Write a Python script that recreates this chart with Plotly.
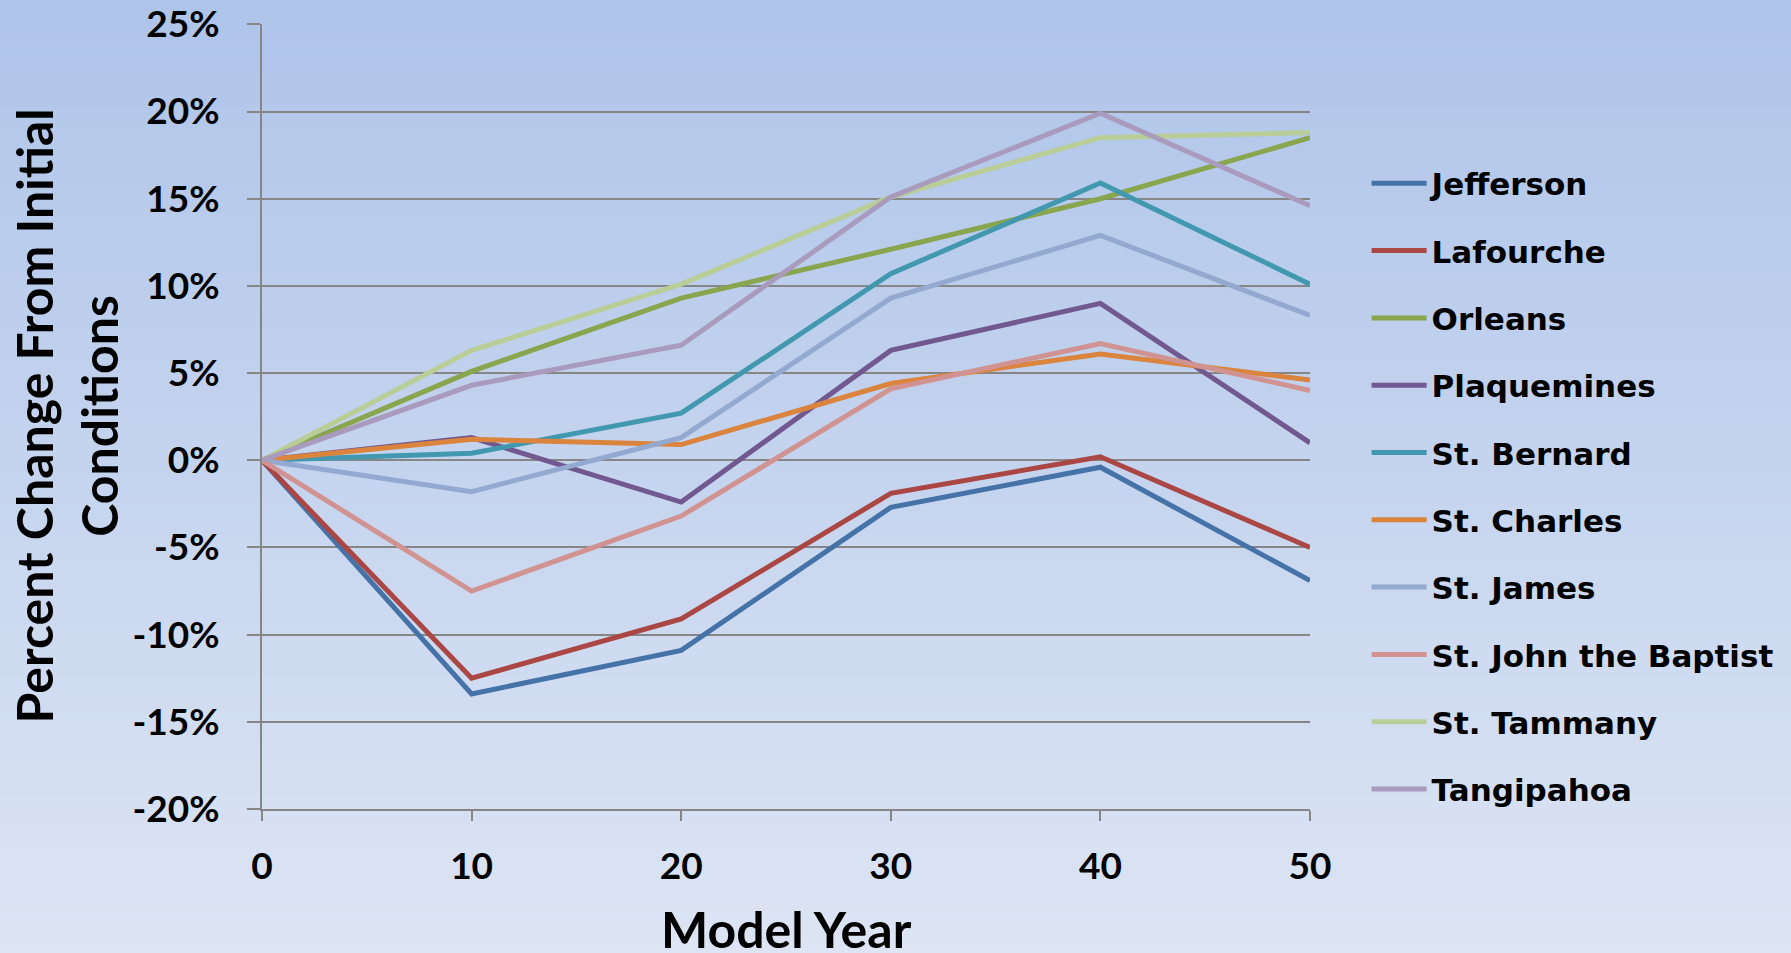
import plotly.graph_objects as go

# ---------------- data ----------------
years = [0, 10, 20, 30, 40, 50]
parishes = ["Jefferson", "Lafourche", "Orleans", "Plaquemines", "St. Bernard",
            "St. Charles", "St. James", "St. John the Baptist", "St. Tammany", "Tangipahoa"]
jefferson = [0, -13.4, -10.9, -2.7, -0.4, -6.9]
lafourche = [0, -12.5, -9.1, -1.9, 0.2, -5.0]
orleans = [0, 5.1, 9.3, 12.1, 15.0, 18.5]
plaquemines = [0, 1.3, -2.4, 6.3, 9.0, 1.0]
st_bernard = [0, 0.4, 2.7, 10.7, 15.9, 10.1]
st_charles = [0, 1.2, 0.9, 4.4, 6.1, 4.6]
st_james = [0, -1.8, 1.3, 9.3, 12.9, 8.3]
st_john = [0, -7.5, -3.2, 4.1, 6.7, 4.0]
st_tammany = [0, 6.3, 10.1, 15.1, 18.5, 18.8]
tangipahoa = [0, 4.3, 6.6, 15.1, 19.9, 14.6]
series = [jefferson, lafourche, orleans, plaquemines, st_bernard,
          st_charles, st_james, st_john, st_tammany, tangipahoa]
y_tickvals = [-20, -15, -10, -5, 0, 5, 10, 15, 20, 25]
y_ticktext = ["-20%", "-15%", "-10%", "-5%", "0%", "5%", "10%", "15%", "20%", "25%"]
x_tickvals = [0, 10, 20, 30, 40, 50]

colors = ["#4572A7", "#AA4643", "#89A54E", "#71588F", "#4198AF",
          "#DB843D", "#93A9CF", "#D19392", "#B9CD96", "#A99BBD"]

W, H = 1791, 953
ML, MR, MT, MB = 262, 481, 24, 144
PW, PH = W - ML - MR, H - MT - MB

fig = go.Figure()
for i, (name, vals) in enumerate(zip(parishes, series)):
    fig.add_trace(go.Scatter(x=years, y=vals, mode="lines", name=name,
                             legendgroup=name,
                             line=dict(color=colors[i], width=5)))

# gradient background made of thin strips
top = (174, 196, 233)
bot = (221, 229, 244)
N = 90
shapes = []
for k in range(N):
    py0 = H * k / N
    py1 = H * (k + 1) / N + 1
    t = (k + 0.5) / N
    c = tuple(round(top[j] + (bot[j] - top[j]) * t) for j in range(3))
    shapes.append(dict(type="rect", xref="paper", yref="paper",
                       x0=-ML / PW - 0.01, x1=(W - ML) / PW + 0.01,
                       y0=(H - MB - py1) / PH, y1=(H - MB - py0) / PH,
                       fillcolor="rgb(%d,%d,%d)" % c, line=dict(width=0),
                       layer="below"))

axis_font = dict(family="Lato", size=37, color="black", weight="bold")
fig.update_layout(
    width=W, height=H,
    margin=dict(l=ML, r=MR, t=MT, b=MB, autoexpand=False),
    paper_bgcolor="rgb(198,212,238)",
    plot_bgcolor="rgba(0,0,0,0)",
    shapes=shapes,
    showlegend=True,
    legend=dict(x=1.054, xanchor="left", y=0.831, yanchor="top",
                bgcolor="rgba(0,0,0,0)", traceorder="grouped",
                tracegroupgap=24, itemwidth=55,
                font=dict(family="DejaVu Sans", size=31, color="black", weight="bold")),
    xaxis=dict(range=[0, 50], tickvals=x_tickvals, showgrid=False,
               showline=True, linecolor="#868686", linewidth=2,
               ticks="outside", ticklen=10, tickcolor="#868686", tickwidth=2,
               tickfont=axis_font, ticklabelstandoff=14, zeroline=False),
    yaxis=dict(range=[-20, 25.02], tickvals=y_tickvals, ticktext=y_ticktext,
               showgrid=True, gridcolor="#868686", gridwidth=2,
               showline=True, linecolor="#868686", linewidth=2,
               ticks="outside", ticklen=13, tickcolor="#868686", tickwidth=2,
               tickfont=axis_font, ticklabelstandoff=20, zeroline=False,
               ticklabeloverflow="allow"),
    annotations=[
        dict(text="Model Year", xref="paper", yref="paper",
             x=0.5, y=-(929 - (H - MB)) / PH, xanchor="center", yanchor="middle",
             showarrow=False, font=dict(family="Lato", size=50, color="black", weight="bold")),
        dict(text="Percent Change From Initial<br>Conditions", xref="paper", yref="paper",
             x=-(ML - 66) / PW, y=0.5, xanchor="center", yanchor="middle", textangle=-90,
             showarrow=False, font=dict(family="Lato", size=50, color="black", weight="bold")),
    ],
)

fig.write_html("out.html", config={"displayModeBar": False},
               post_script="document.body.style.margin='0';document.body.style.overflow='hidden';")
